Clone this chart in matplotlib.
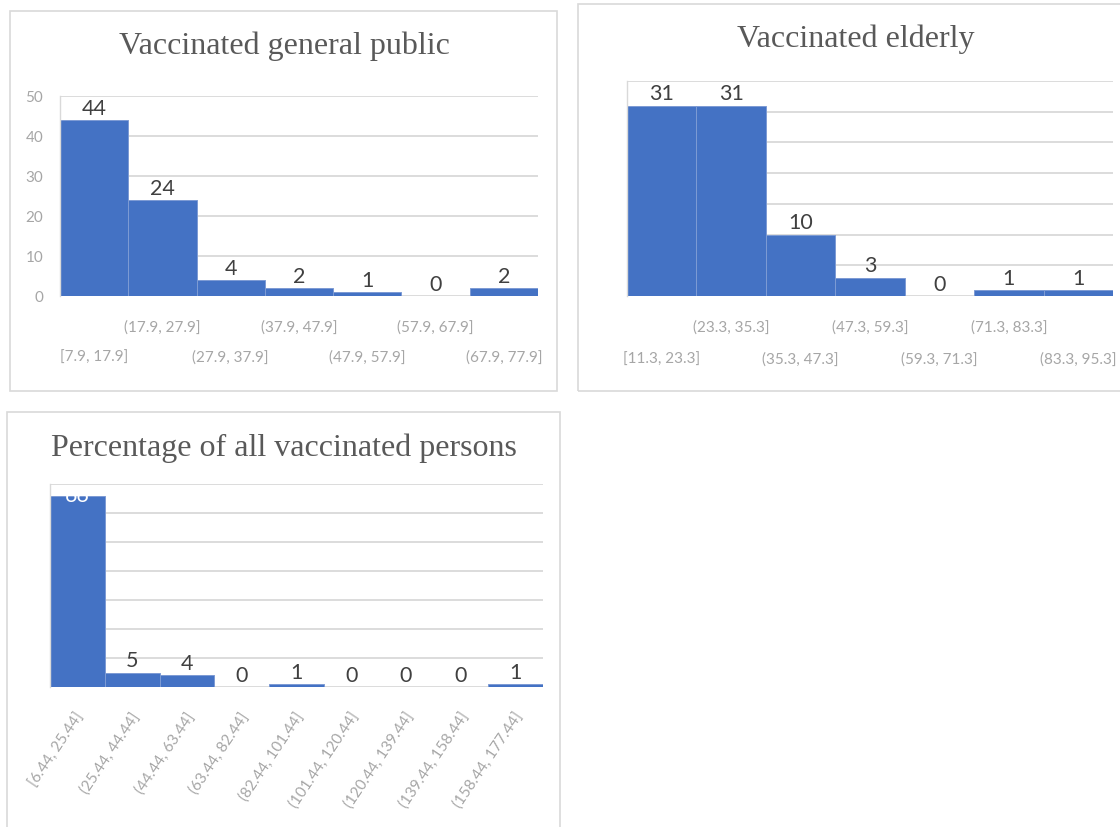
import matplotlib
matplotlib.use("Agg")
import matplotlib.pyplot as plt
from matplotlib.patches import Rectangle
import numpy as np

# ---- data ----
gp_title = "Vaccinated general public"
gp_bins = ["[7.9, 17.9]", "(17.9, 27.9]", "(27.9, 37.9]", "(37.9, 47.9]",
           "(47.9, 57.9]", "(57.9, 67.9]", "(67.9, 77.9]"]
gp_counts = [44, 24, 4, 2, 1, 0, 2]

el_title = "Vaccinated elderly"
el_bins = ["[11.3, 23.3]", "(23.3, 35.3]", "(35.3, 47.3]", "(47.3, 59.3]",
           "(59.3, 71.3]", "(71.3, 83.3]", "(83.3, 95.3]"]
el_counts = [31, 31, 10, 3, 0, 1, 1]

pc_title = "Percentage of all vaccinated persons"
pc_bins = ["[6.44, 25.44]", "(25.44, 44.44]", "(44.44, 63.44]", "(63.44, 82.44]",
           "(82.44, 101.44]", "(101.44, 120.44]", "(120.44, 139.44]",
           "(139.44, 158.44]", "(158.44, 177.44]"]
pc_counts = [66, 5, 4, 0, 1, 0, 0, 0, 1]

W, H = 1120, 827
fig = plt.figure(figsize=(W / 100, H / 100), dpi=100)

BLUE = "#4472C4"
EDGE = "#7d9bd4"
GRID = "#d9d9d9"
TICK = "#a6a6a6"
LABEL = "#404040"
TITLE = "#595959"
SANS = "Lato"
SERIF = "Liberation Serif"
TITLE_FS = 23
LABEL_FS = 15.5
TICK_FS = 11


def px_axes(x0, y0, x1, y1):
    return fig.add_axes([x0 / W, 1 - y1 / H, (x1 - x0) / W, (y1 - y0) / H])


def box(x0, y0, x1, y1):
    fig.patches.append(Rectangle((x0 / W, 1 - y1 / H), (x1 - x0) / W, (y1 - y0) / H,
                                 transform=fig.transFigure, fill=False,
                                 edgecolor=GRID, linewidth=1.2))


def base(ax, ymax, step, yticklabels):
    ax.set_ylim(0, ymax)
    ax.set_yticks(np.arange(0, ymax + 0.1, step))
    ax.yaxis.grid(True, color=GRID, linewidth=1.3)
    ax.set_axisbelow(True)
    for s in ["top", "right", "bottom"]:
        ax.spines[s].set_visible(False)
    ax.spines["left"].set_color(GRID)
    ax.spines["left"].set_linewidth(1.0)
    ax.tick_params(axis="both", length=0)
    ax.set_xticks([])
    if yticklabels:
        ax.tick_params(axis="y", labelcolor=TICK, labelsize=TICK_FS, pad=12)
        for t in ax.get_yticklabels():
            t.set_fontfamily(SANS)
    else:
        ax.set_yticklabels([])


def bars(ax, counts, ymax):
    n = len(counts)
    x = np.arange(n) + 0.5
    ax.bar(x, counts, width=1.0, color=BLUE, edgecolor=EDGE, linewidth=0.7)
    ax.set_xlim(0, n)
    off = ymax * 0.005
    for xi, c in zip(x, counts):
        ax.text(xi, c + off, str(c), ha="center", va="bottom", fontsize=LABEL_FS,
                color=LABEL, family=SANS)
    return x


# Panel 1
box(10, 11, 557, 391)
ax1 = px_axes(60, 96, 538, 296)
base(ax1, 50, 10, True)
x1 = bars(ax1, gp_counts, 50)
for i, (xi, lab) in enumerate(zip(x1, gp_bins)):
    dy = -62 if i % 2 == 0 else -32
    ax1.annotate(lab, xy=(xi, 0), xycoords=("data", "axes fraction"),
                 xytext=(0, dy), textcoords="offset pixels", ha="center",
                 va="center", fontsize=TICK_FS, color=TICK, family=SANS)
fig.text(284 / W, 1 - 46 / H, gp_title, ha="center", va="center",
         fontsize=TITLE_FS, color=TITLE, family=SERIF)

# Panel 2
box(578, 4, 1125, 391)
ax2 = px_axes(627, 81, 1113, 296)
base(ax2, 35, 5, False)
x2 = bars(ax2, el_counts, 35)
for i, (xi, lab) in enumerate(zip(x2, el_bins)):
    dy = -64 if i % 2 == 0 else -32
    ax2.annotate(lab, xy=(xi, 0), xycoords=("data", "axes fraction"),
                 xytext=(0, dy), textcoords="offset pixels", ha="center",
                 va="center", fontsize=TICK_FS, color=TICK, family=SANS)
fig.text(856 / W, 1 - 39 / H, el_title, ha="center", va="center",
         fontsize=TITLE_FS, color=TITLE, family=SERIF)

# Panel 3
box(7, 412, 560, 835)
ax3 = px_axes(50, 484, 543, 687)
base(ax3, 70, 10, False)
n3 = len(pc_counts)
x3 = np.arange(n3) + 0.5
ax3.bar(x3, pc_counts, width=1.0, color=BLUE, edgecolor=EDGE, linewidth=0.7)
ax3.set_xlim(0, n3)
for xi, c in zip(x3, pc_counts):
    if c == max(pc_counts):
        ax3.text(xi, c, str(c), ha="center", va="center", fontsize=LABEL_FS,
                 color="white", family=SANS)
    else:
        ax3.text(xi, c + 0.4, str(c), ha="center", va="bottom", fontsize=LABEL_FS,
                 color=LABEL, family=SANS)
for xi, lab in zip(x3, pc_bins):
    ax3.annotate(lab, xy=(xi, 0), xycoords=("data", "axes fraction"),
                 xytext=(4, -27), textcoords="offset pixels", ha="right",
                 va="center", rotation=56, rotation_mode="anchor",
                 fontsize=TICK_FS, color=TICK, family=SANS)
fig.text(284 / W, 1 - 448 / H, pc_title, ha="center", va="center",
         fontsize=TITLE_FS, color=TITLE, family=SERIF)

fig.savefig("out.png", dpi=100, facecolor="white")
